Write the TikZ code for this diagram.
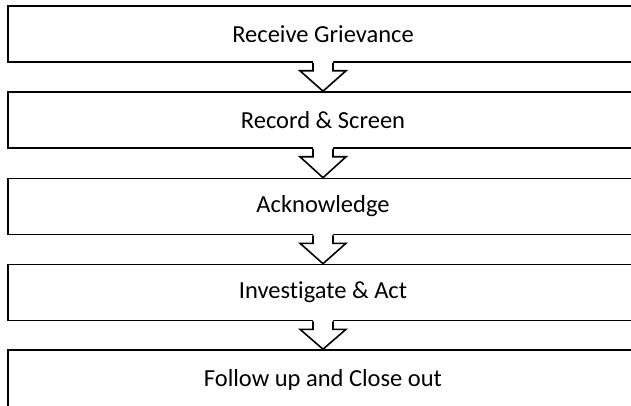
\documentclass[tikz,border=0pt]{standalone}
\usepackage{fontspec}
\setmainfont{Carlito}[Ligatures=NoCommon]
\usetikzlibrary{calc}
\tikzset{
  stagebox/.style={draw=black, line width=1.6pt, minimum width=630pt, minimum height=56pt,
    inner sep=0pt, font=\fontsize{24.5}{29}\selectfont},
  arrowline/.style={draw=black, line width=1.6pt, line join=miter},
}
\begin{document}
\begin{tikzpicture}[x=1pt, y=-1pt]
\useasboundingbox (0,0) rectangle (631,406);
\begin{scope}
\clip (0,0) rectangle (631,406);
\node[stagebox] (b1) at (323,34) {Receive Grievance};
\node[stagebox] (b2) at (323,120) {Record \& Screen};
\node[stagebox] (b3) at (323,206.5) {Acknowledge};
\node[stagebox] (b4) at (323,292.5) {Investigate \& Act};
\node[stagebox, minimum height=60pt] (b5) at (323,380) {Follow up and Close out};
\foreach \a/\b in {b1/b2,b2/b3,b3/b4,b4/b5} {
  \fill[white] ($(\a.south)+(-10,-2)$) -- ($(\a.south)+(-10,8)$) -- ($(\a.south)+(-23,8)$)
    -- (\b.north) -- ($(\a.south)+(23,8)$) -- ($(\a.south)+(10,8)$) -- ($(\a.south)+(10,-2)$) -- cycle;
  \draw[arrowline] ($(\a.south)+(-10,0)$) -- ($(\a.south)+(-10,8)$) -- ($(\a.south)+(-23,8)$)
    -- (\b.north) -- ($(\a.south)+(23,8)$) -- ($(\a.south)+(10,8)$) -- ($(\a.south)+(10,0)$);
}
\end{scope}
\end{tikzpicture}
\end{document}
